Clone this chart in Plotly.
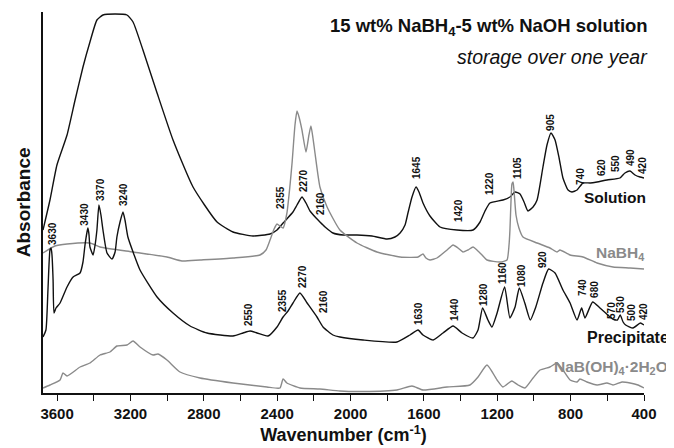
import plotly.graph_objects as go

# ---------------- data (wavenumber cm-1, absorbance a.u. with offsets) ----------------
sol_wn = [3677, 3639, 3601, 3546, 3502, 3459, 3421, 3383, 3350, 3284, 3219, 3186, 3132, 3055, 2968,
          2859, 2728, 2641, 2532, 2439, 2401, 2368, 2314, 2292, 2265, 2243, 2221, 2188, 2167, 2139,
          2096, 2041, 1965, 1883, 1801, 1758, 1730, 1703, 1687, 1665, 1643, 1627, 1605, 1567, 1512,
          1420, 1332, 1294, 1267, 1240, 1169, 1131, 1103, 1076, 1054, 1033, 1005, 983, 951, 929,
          907, 885, 863, 842, 814, 793, 765, 733, 694, 656, 602, 531, 504, 476, 449, 422, 400]
sol_abs = [163, 193, 228, 258, 293, 326, 351, 373, 378, 379, 378, 371, 343, 300, 253,
           206, 171, 161, 157, 159, 163, 170, 181, 188, 196, 190, 182, 175, 171, 166,
           160, 158, 158, 157, 154, 156, 160, 168, 180, 196, 206, 201, 190, 177, 166,
           163, 163, 171, 182, 190, 193, 196, 201, 199, 191, 182, 186, 193, 226, 248,
           260, 253, 235, 215, 203, 201, 203, 210, 210, 211, 213, 215, 220, 222, 218, 216, 215]

nabh4_wn = [3677, 3612, 3546, 3421, 3366, 3186, 3001, 2919, 2821, 2641, 2494, 2461, 2439, 2417, 2401,
            2385, 2368, 2347, 2330, 2319, 2303, 2292, 2281, 2265, 2243, 2227, 2216, 2205, 2194, 2167,
            2128, 2058, 1965, 1856, 1730, 1632, 1605, 1589, 1567, 1529, 1474, 1441, 1414, 1387, 1360,
            1332, 1311, 1283, 1256, 1185, 1147, 1136, 1131, 1125, 1120, 1114, 1109, 1098, 1082, 1060,
            983, 913, 874, 858, 803, 733, 656, 569, 476, 400]
nabh4_abs = [140, 147, 149, 150, 146, 141, 136, 132, 133, 135, 138, 143, 153, 164, 169,
             167, 165, 180, 208, 230, 268, 282, 276, 263, 241, 258, 267, 255, 240, 206,
             186, 163, 150, 141, 136, 136, 139, 135, 133, 135, 143, 148, 145, 141, 143,
             146, 143, 138, 133, 131, 133, 148, 163, 193, 209, 211, 203, 178, 165, 156,
             150, 145, 141, 143, 138, 136, 130, 126, 125, 124]

prec_wn = [3677, 3661, 3650, 3639, 3633, 3628, 3622, 3617, 3606, 3584, 3546, 3513, 3475, 3459, 3448,
           3437, 3432, 3426, 3421, 3404, 3393, 3383, 3372, 3361, 3350, 3328, 3301, 3284, 3274, 3257,
           3241, 3230, 3214, 3186, 3148, 3055, 2968, 2875, 2783, 2641, 2586, 2548, 2510, 2450, 2401,
           2368, 2341, 2314, 2276, 2237, 2183, 2150, 2096, 2058, 1932, 1747, 1676, 1632, 1605, 1550,
           1496, 1441, 1392, 1332, 1305, 1280, 1251, 1229, 1201, 1160, 1131, 1103, 1080, 1050, 1020,
           990, 951, 920, 885, 842, 803, 765, 740, 722, 680, 640, 585, 570, 545, 530,
           514, 500, 460, 420, 400]
prec_abs = [56, 63, 103, 143, 145, 138, 113, 80, 85, 90, 106, 116, 120, 131, 148,
            161, 165, 158, 146, 138, 148, 163, 188, 178, 163, 140, 134, 141, 156, 171,
            181, 173, 156, 141, 123, 96, 80, 67, 60, 57, 60, 62, 60, 57, 66,
            76, 82, 90, 100, 90, 76, 66, 58, 56, 53, 51, 58, 63, 58, 53,
            60, 67, 60, 55, 63, 85, 73, 66, 80, 106, 75, 86, 105, 90, 73,
            86, 110, 124, 120, 103, 90, 73, 85, 75, 91, 85, 76, 74, 73, 78,
            71, 68, 65, 70, 68]

nabo_wn = [3677, 3639, 3584, 3568, 3546, 3475, 3421, 3366, 3312, 3274, 3219, 3186, 3148, 3077, 3050,
           3001, 2930, 2821, 2641, 2456, 2385, 2368, 2347, 2276, 2167, 2058, 1932, 1747, 1665, 1605,
           1474, 1349, 1305, 1256, 1201, 1169, 1131, 1120, 1087, 1049, 1005, 967, 913, 874, 842,
           803, 765, 749, 711, 656, 602, 569, 520, 476, 433, 400]
nabo_abs = [5, 8, 13, 20, 17, 26, 30, 38, 41, 47, 48, 52, 46, 38, 39,
            33, 21, 15, 10, 6, 5, 14, 10, 5, 4, 2, 1.5, 3, 7, 3,
            6, 8, 16, 28, 13, 6, 11, 12, 8, 5, 15, 23, 26, 30, 23,
            13, 11, 14, 11, 8, 10, 8, 11, 10, 8, 5]

# peak labels: text, wavenumber position, absorbance position
upper_labels = ["3630", "3430", "3370", "3240", "2355", "2270", "2160", "1645", "1420", "1220",
                "1105", "905", "740", "620", "550", "490", "420"]
upper_lab_wn = [3628, 3455, 3366, 3241, 2385, 2259, 2167, 1643, 1414, 1245,
                1092, 913, 749, 634, 558, 476, 411]
upper_lab_y = [160, 179, 203, 199, 196, 212, 190, 225, 182, 209,
               225, 271, 217, 225, 229, 235, 228]

lower_labels = ["2550", "2355", "2270", "2160", "1630", "1440", "1280", "1160", "1080", "920",
                "740", "680", "570", "530", "500", "420"]
lower_lab_wn = [2559, 2374, 2265, 2150, 1632, 1436, 1278, 1174, 1071, 956,
                738, 673, 580, 531, 471, 405]
lower_lab_y = [78, 93, 117, 91, 79, 83, 99, 120, 118, 133,
               105, 104, 83, 89, 81, 81]

xtick_vals = [3600, 3200, 2800, 2400, 2000, 1600, 1200, 800, 400]

BLACK = "#111111"
GRAY = "#8a8a8a"
FONT = "Liberation Sans, Arial, sans-serif"

fig = go.Figure()
for wn, ab, col in [(sol_wn, sol_abs, BLACK), (nabh4_wn, nabh4_abs, GRAY),
                    (prec_wn, prec_abs, BLACK), (nabo_wn, nabo_abs, GRAY)]:
    fig.add_trace(go.Scatter(x=wn, y=ab, mode="lines",
                             line=dict(color=col, width=1.4, shape="spline", smoothing=0.5),
                             showlegend=False, hoverinfo="skip"))

ann = []
for labs, xs, ys in [(upper_labels, upper_lab_wn, upper_lab_y),
                     (lower_labels, lower_lab_wn, lower_lab_y)]:
    for t, xv, yv in zip(labs, xs, ys):
        ann.append(dict(x=xv, y=yv, xref="x", yref="y", text="<b>%s</b>" % t,
                        showarrow=False, textangle=-90, xanchor="center", yanchor="middle",
                        font=dict(family=FONT, size=10, color=BLACK)))

names = [("<b>Solution</b>", 1.005, 196, BLACK, 15.5),
         ("<b>NaBH<sub>4</sub></b>", 1.002, 140, GRAY, 15.5),
         ("<b>Precipitate</b>", 1.044, 56, BLACK, 16),
         ("<b>NaB(OH)<sub>4</sub>·2H<sub>2</sub>O</b>", 1.041, 26, GRAY, 15.5)]
for t, xp, yv, col, fs in names:
    ann.append(dict(x=xp, y=yv, xref="paper", yref="y", text=t, showarrow=False,
                    xanchor="right", yanchor="middle", borderpad=0,
                    font=dict(family=FONT, size=fs, color=col)))

ann.append(dict(x=1.01, y=366, xref="paper", yref="y",
                text="<b>15 wt% NaBH<sub>4</sub>-5 wt% NaOH solution</b>",
                showarrow=False, xanchor="right", yanchor="middle",
                font=dict(family=FONT, size=18.5, color=BLACK)))
ann.append(dict(x=1.01, y=336, xref="paper", yref="y",
                text="<i>storage over one year</i>",
                showarrow=False, xanchor="right", yanchor="middle",
                font=dict(family=FONT, size=19.5, color=BLACK)))
ann.append(dict(x=-0.032, y=0.5, xref="paper", yref="paper",
                text="<b>Absorbance</b>", showarrow=False, textangle=-90,
                xanchor="center", yanchor="middle",
                font=dict(family=FONT, size=19, color=BLACK)))

# the page body adds an 8px margin, so the figure is made 8px smaller and margins shifted
fig.update_layout(
    width=666, height=440,
    margin=dict(l=35, r=30, t=4, b=55),
    paper_bgcolor="white", plot_bgcolor="white",
    annotations=ann,
    xaxis=dict(range=[3677, 400], tickvals=xtick_vals, ticks="outside", ticklen=6,
               tickwidth=1.3, tickcolor=BLACK, showline=True, linecolor=BLACK, linewidth=1.5,
               showgrid=False, zeroline=False,
               tickfont=dict(family=FONT, size=15, color=BLACK, weight="bold"),
               minor=dict(dtick=200, tick0=400, ticks="outside", ticklen=6, tickwidth=1.3,
                          tickcolor=BLACK, showgrid=False),
               title=dict(text="<b>Wavenumber (cm<sup>-1</sup>)</b>", standoff=8,
                          font=dict(family=FONT, size=18, color=BLACK))),
    yaxis=dict(range=[0, 381], showticklabels=False, ticks="", showline=True,
               linecolor=BLACK, linewidth=1.5, showgrid=False, zeroline=False),
)

fig.write_html("out.html")
